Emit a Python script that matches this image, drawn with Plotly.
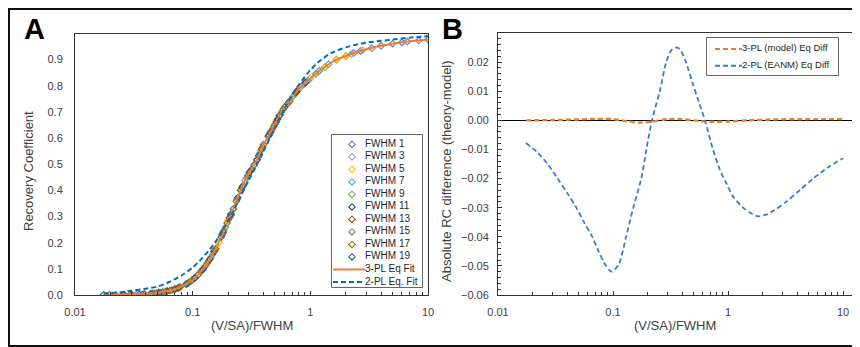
import plotly.graph_objects as go

# The page body has an 8px margin, so the figure is 852x339 and page
# coordinates are converted by subtracting that offset.
OFF = 8
W, H = 860 - OFF, 347 - OFF
FONT = "Liberation Sans, Arial, sans-serif"

def px(x):
    return (x - OFF) / W

def py(y):
    return 1 - (y - OFF) / H

# ---------------- data ----------------
series_names = ["FWHM 1", "FWHM 3", "FWHM 5", "FWHM 7", "FWHM 9",
                "FWHM 11", "FWHM 13", "FWHM 15", "FWHM 17", "FWHM 19"]
series_colors = ["#5a7cc8", "#a5a5a5", "#ffc000", "#5b9bd5", "#70ad47",
                 "#264478", "#9e480e", "#7a7a7a", "#997300", "#255e91"]

x_f1 = [0.333, 0.5, 0.667, 0.833, 1.0, 1.333, 1.667, 2.0, 2.333, 2.667, 3.333, 4.0, 5.0, 6.0, 6.667, 8.333, 10.0]
y_f1 = [0.497, 0.652, 0.741, 0.797, 0.828, 0.872, 0.900, 0.914, 0.925, 0.933, 0.944, 0.953, 0.961, 0.966, 0.969, 0.973, 0.977]
x_f3 = [0.111, 0.167, 0.222, 0.278, 0.333, 0.444, 0.556, 0.667, 0.778, 0.889, 1.111, 1.333, 1.667, 2.0, 2.222, 2.778, 3.333]
y_f3 = [0.077, 0.200, 0.329, 0.437, 0.497, 0.611, 0.690, 0.741, 0.783, 0.808, 0.845, 0.872, 0.900, 0.914, 0.921, 0.936, 0.944]
x_f5 = [0.0667, 0.1, 0.133, 0.167, 0.2, 0.267, 0.333, 0.4, 0.467, 0.533, 0.667, 0.8, 1.0, 1.2, 1.333, 1.667, 2.0]
y_f5 = [0.019, 0.058, 0.122, 0.200, 0.285, 0.418, 0.497, 0.575, 0.627, 0.676, 0.741, 0.790, 0.828, 0.858, 0.872, 0.900, 0.914]
x_f7 = [0.0476, 0.0714, 0.0952, 0.119, 0.143, 0.19, 0.238, 0.286, 0.333, 0.381, 0.476, 0.571, 0.714, 0.857, 0.952, 1.19, 1.429]
y_f7 = [0.007, 0.023, 0.051, 0.092, 0.144, 0.260, 0.365, 0.447, 0.497, 0.553, 0.635, 0.700, 0.760, 0.802, 0.820, 0.857, 0.882]
x_f9 = [0.037, 0.0556, 0.0741, 0.0926, 0.111, 0.148, 0.185, 0.222, 0.259, 0.296, 0.37, 0.444, 0.556, 0.667, 0.741, 0.926, 1.111]
y_f9 = [0.003, 0.011, 0.026, 0.048, 0.077, 0.155, 0.248, 0.329, 0.405, 0.458, 0.540, 0.611, 0.690, 0.741, 0.770, 0.815, 0.845]
x_f11 = [0.0303, 0.0455, 0.0606, 0.0758, 0.0909, 0.121, 0.152, 0.182, 0.212, 0.242, 0.303, 0.364, 0.455, 0.545, 0.606, 0.758, 0.909]
y_f11 = [0.002, 0.006, 0.015, 0.028, 0.045, 0.096, 0.165, 0.240, 0.310, 0.372, 0.468, 0.532, 0.619, 0.685, 0.718, 0.775, 0.812]
x_f13 = [0.0256, 0.0385, 0.0513, 0.0641, 0.0769, 0.103, 0.128, 0.154, 0.179, 0.205, 0.256, 0.308, 0.385, 0.462, 0.513, 0.641, 0.769]
y_f13 = [0.001, 0.004, 0.009, 0.017, 0.029, 0.063, 0.111, 0.170, 0.233, 0.295, 0.400, 0.472, 0.558, 0.624, 0.662, 0.731, 0.780]
x_f15 = [0.0222, 0.0333, 0.0444, 0.0556, 0.0667, 0.0889, 0.111, 0.133, 0.156, 0.178, 0.222, 0.267, 0.333, 0.4, 0.444, 0.556, 0.667]
y_f15 = [0.001, 0.002, 0.006, 0.011, 0.019, 0.043, 0.077, 0.122, 0.175, 0.230, 0.329, 0.418, 0.497, 0.575, 0.611, 0.690, 0.741]
x_f17 = [0.0196, 0.0294, 0.0392, 0.049, 0.0588, 0.0784, 0.098, 0.118, 0.137, 0.157, 0.196, 0.235, 0.294, 0.353, 0.392, 0.49, 0.588]
y_f17 = [0.001, 0.002, 0.004, 0.008, 0.013, 0.030, 0.055, 0.090, 0.131, 0.177, 0.275, 0.358, 0.456, 0.518, 0.566, 0.645, 0.710]
x_f19 = [0.0175, 0.0263, 0.0351, 0.0439, 0.0526, 0.0702, 0.0877, 0.105, 0.123, 0.14, 0.175, 0.211, 0.263, 0.316, 0.351, 0.439, 0.526]
y_f19 = [0.001, 0.001, 0.003, 0.005, 0.009, 0.022, 0.041, 0.066, 0.100, 0.137, 0.222, 0.305, 0.412, 0.480, 0.516, 0.607, 0.672]

series_x = [x_f1, x_f3, x_f5, x_f7, x_f9, x_f11, x_f13, x_f15, x_f17, x_f19]
series_y = [y_f1, y_f3, y_f5, y_f7, y_f9, y_f11, y_f13, y_f15, y_f17, y_f19]

fit3_x = [0.0175, 0.02, 0.025, 0.03, 0.04, 0.05, 0.06, 0.07, 0.08, 0.09, 0.1, 0.11, 0.12,
          0.13, 0.14, 0.15, 0.16, 0.18, 0.2, 0.22, 0.25, 0.28, 0.3, 0.33, 0.35, 0.4, 0.45,
          0.5, 0.55, 0.6, 0.67, 0.7, 0.8, 0.9, 1.0, 1.2, 1.5, 1.67, 2.0, 2.5, 3.0, 4.0,
          5.0, 7.0, 10.0]
fit3_y = [0.001, 0.001, 0.001, 0.002, 0.004, 0.008, 0.014, 0.022, 0.032, 0.044, 0.058, 0.075,
          0.094, 0.115, 0.137, 0.160, 0.185, 0.235, 0.285, 0.325, 0.390, 0.440, 0.465, 0.495,
          0.515, 0.575, 0.615, 0.652, 0.688, 0.715, 0.742, 0.755, 0.790, 0.810, 0.828, 0.858,
          0.888, 0.900, 0.914, 0.930, 0.940, 0.953, 0.961, 0.970, 0.977]

fit2_x = [0.0175, 0.02, 0.025, 0.03, 0.04, 0.05, 0.06, 0.07, 0.08, 0.1, 0.12, 0.14, 0.16,
          0.18, 0.2, 0.22, 0.25, 0.3, 0.35, 0.4, 0.5, 0.6, 0.7, 0.8, 1.0, 1.2, 1.5, 2.0,
          2.5, 3.0, 4.0, 5.0, 7.0, 10.0]
fit2_y = [0.006, 0.007, 0.011, 0.016, 0.024, 0.032, 0.045, 0.060, 0.074, 0.105, 0.140, 0.175,
          0.210, 0.248, 0.283, 0.318, 0.368, 0.440, 0.497, 0.550, 0.640, 0.710, 0.765, 0.805,
          0.860, 0.895, 0.925, 0.947, 0.958, 0.965, 0.972, 0.977, 0.984, 0.990]

diff3_x = [0.0175, 0.03, 0.05, 0.07, 0.1, 0.13, 0.17, 0.22, 0.3, 0.4, 0.55, 0.7, 1.0, 1.5,
           2.5, 5.0, 10.0]
diff3_y = [0.0, 0.0001, 0.0003, 0.0005, 0.0004, -0.0003, -0.0008, -0.0004, 0.0004, 0.0004,
           -0.0002, -0.0005, -0.0004, 0.0, 0.0003, 0.0004, 0.0004]

diff2_x = [0.0175, 0.022, 0.027, 0.033, 0.04, 0.048, 0.056, 0.066, 0.075, 0.084, 0.097,
           0.112, 0.13, 0.15, 0.176, 0.195, 0.218, 0.255, 0.29, 0.32, 0.35, 0.38, 0.43,
           0.49, 0.55, 0.63, 0.74, 0.85, 0.95, 1.1, 1.35, 1.6, 1.82, 2.1, 2.5, 3.2, 4.2, 5.5,
           7.5, 10.0]
diff2_y = [-0.0078, -0.011, -0.015, -0.020, -0.025, -0.030, -0.035, -0.040, -0.045, -0.049,
           -0.052, -0.0495, -0.040, -0.030, -0.020, -0.010, 0.0, 0.010, 0.020,
           0.024, 0.025, 0.0245, 0.020, 0.013, 0.007, 0.0, -0.010, -0.017, -0.021, -0.026,
           -0.030, -0.032, -0.033, -0.0325, -0.031, -0.028, -0.024, -0.020, -0.016, -0.013]

a_line_names = ["3-PL Eq Fit", "2-PL Eq. Fit"]
b_line_names = ["3-PL (model) Eq Diff", "2-PL (EANM) Eq Diff"]

x_ticks = [0.01, 0.1, 1, 10]
x_ticktext = ["0.01", "0.1", "1", "10"]
a_yticks = [0.0, 0.1, 0.2, 0.3, 0.4, 0.5, 0.6, 0.7, 0.8, 0.9]
b_yticks = [-0.06, -0.05, -0.04, -0.03, -0.02, -0.01, 0.0, 0.01, 0.02]

ORANGE = "#ed7d31"
BLUE_A = "#0070c0"
BLUE_B = "#3a7bd5"
DASH = "5px,3px"

MARKER_SIZE = 5
MARKER_LW = 1.1

# ---------------- figure ----------------
fig = go.Figure()

for name, color, xs, ys in zip(series_names, series_colors, series_x, series_y):
    fig.add_trace(go.Scatter(
        x=xs, y=ys, mode="markers", name=name, showlegend=False,
        marker=dict(symbol="diamond-open", size=MARKER_SIZE, color=color,
                    line=dict(width=MARKER_LW, color=color)),
        xaxis="x", yaxis="y"))

fig.add_trace(go.Scatter(x=fit3_x, y=fit3_y, mode="lines", name=a_line_names[0], showlegend=False,
                         line=dict(color=ORANGE, width=2, shape="spline", smoothing=0.6),
                         xaxis="x", yaxis="y"))
fig.add_trace(go.Scatter(x=fit2_x, y=fit2_y, mode="lines", name=a_line_names[1], showlegend=False,
                         line=dict(color=BLUE_A, width=2, dash=DASH, shape="spline", smoothing=0.6),
                         xaxis="x", yaxis="y"))

fig.add_trace(go.Scatter(x=diff3_x, y=diff3_y, mode="lines", name=b_line_names[0], showlegend=False,
                         line=dict(color=ORANGE, width=2.4, dash=DASH, shape="spline", smoothing=0.6),
                         xaxis="x2", yaxis="y2"))
fig.add_trace(go.Scatter(x=diff2_x, y=diff2_y, mode="lines", name=b_line_names[1], showlegend=False,
                         line=dict(color=BLUE_B, width=1.8, dash=DASH, shape="spline", smoothing=0.8),
                         xaxis="x2", yaxis="y2"))

# ---- legend A (own small axes) ----
n_ser = len(series_names)
leg_idx = list(range(n_ser))
fig.add_trace(go.Scatter(
    x=[20] * n_ser, y=leg_idx, mode="markers", showlegend=False, hoverinfo="skip",
    marker=dict(symbol="diamond-open", size=MARKER_SIZE, color=series_colors,
                line=dict(width=MARKER_LW, color=series_colors)),
    xaxis="x3", yaxis="y3"))
all_a_names = series_names + a_line_names
fig.add_trace(go.Scatter(
    x=[33] * len(all_a_names), y=list(range(len(all_a_names))), mode="text",
    text=all_a_names, textposition="middle right", showlegend=False, hoverinfo="skip",
    textfont=dict(family=FONT, size=10, color="#262626"), xaxis="x3", yaxis="y3"))
fig.add_trace(go.Scatter(x=[1, 33], y=[n_ser, n_ser], mode="lines", showlegend=False,
                         hoverinfo="skip", line=dict(color=ORANGE, width=2),
                         xaxis="x3", yaxis="y3"))
fig.add_trace(go.Scatter(x=[1, 33], y=[n_ser + 1, n_ser + 1], mode="lines", showlegend=False,
                         hoverinfo="skip", line=dict(color=BLUE_A, width=2, dash=DASH),
                         xaxis="x3", yaxis="y3"))

# ---- legend B ----
fig.add_trace(go.Scatter(x=[8, 35], y=[0, 0], mode="lines", showlegend=False, hoverinfo="skip",
                         line=dict(color=ORANGE, width=2, dash=DASH), xaxis="x4", yaxis="y4"))
fig.add_trace(go.Scatter(x=[8, 35], y=[1, 1], mode="lines", showlegend=False, hoverinfo="skip",
                         line=dict(color=BLUE_B, width=2, dash=DASH), xaxis="x4", yaxis="y4"))
fig.add_trace(go.Scatter(x=[35, 35], y=[0, 1], mode="text", text=b_line_names,
                         textposition="middle right", showlegend=False, hoverinfo="skip",
                         textfont=dict(family=FONT, size=9.5, color="#262626"),
                         xaxis="x4", yaxis="y4"))

AX_LINE = "#333333"
TICK_FONT = dict(family=FONT, size=11, color="#404040")

fig.update_layout(
    width=W, height=H, margin=dict(l=0, r=0, t=0, b=0),
    paper_bgcolor="white", plot_bgcolor="white", showlegend=False,
    font=dict(family=FONT),
    xaxis=dict(domain=[px(75), px(428)], anchor="y", type="log", range=[-2, 1],
               tickmode="array", tickvals=x_ticks, ticktext=x_ticktext,
               ticks="inside", ticklen=4, tickcolor=AX_LINE,
               minor=dict(ticks="inside", ticklen=3, dtick="D1", tickcolor=AX_LINE, showgrid=False),
               showline=True, linecolor=AX_LINE, linewidth=1, mirror=True,
               showgrid=False, zeroline=False, tickfont=TICK_FONT, automargin=False,
               ticklabelstandoff=7),
    yaxis=dict(domain=[py(295), py(34)], anchor="x", range=[0, 0.998],
               tickmode="array", tickvals=a_yticks, tickformat=".1f", ticks="",
               showline=True, linecolor=AX_LINE, linewidth=1, mirror=True,
               showgrid=False, zeroline=False, tickfont=TICK_FONT, automargin=False,
               ticklabelstandoff=9),
    xaxis2=dict(domain=[px(498), px(852)], anchor="y2", type="log", range=[-2, 1.078],
                tickmode="array", tickvals=x_ticks, ticktext=x_ticktext,
                ticks="inside", ticklen=4, tickcolor=AX_LINE,
                minor=dict(ticks="inside", ticklen=3, dtick="D1", tickcolor=AX_LINE, showgrid=False),
                showline=True, linecolor=AX_LINE, linewidth=1, mirror=True,
                showgrid=False, zeroline=False, tickfont=TICK_FONT, automargin=False,
                ticklabelstandoff=7),
    yaxis2=dict(domain=[py(295), py(33)], anchor="x2", range=[-0.06, 0.03],
                tickmode="array", tickvals=b_yticks, tickformat=".2f",
                ticks="inside", ticklen=4, tickcolor=AX_LINE,
                minor=dict(ticks="inside", ticklen=3, dtick=0.002, tickcolor=AX_LINE, showgrid=False),
                showline=True, linecolor=AX_LINE, linewidth=1, mirror=True,
                showgrid=False, zeroline=True, zerolinecolor="#000000", zerolinewidth=1,
                tickfont=TICK_FONT, automargin=False, ticklabelstandoff=6),
    xaxis3=dict(domain=[px(332), px(422)], anchor="y3", range=[0, 90], visible=False,
                fixedrange=True),
    yaxis3=dict(domain=[py(287), py(135)], anchor="x3", range=[11.4, -0.75], visible=False,
                fixedrange=True),
    xaxis4=dict(domain=[px(707), px(838)], anchor="y4", range=[0, 131], visible=False,
                fixedrange=True),
    yaxis4=dict(domain=[py(75), py(38)], anchor="x4", range=[1.56, -0.66], visible=False,
                fixedrange=True),
)

shapes = [
    # outer frame
    dict(type="rect", xref="paper", yref="paper", x0=px(9), x1=px(875), y0=py(346), y1=py(9),
         line=dict(color="#111111", width=2), fillcolor="rgba(0,0,0,0)", layer="above"),
    # legend boxes
    dict(type="rect", xref="x3 domain", yref="y3 domain", x0=0, x1=1, y0=0, y1=1,
         line=dict(color="#333333", width=1.5), fillcolor="white", layer="below"),
    dict(type="rect", xref="x4 domain", yref="y4 domain", x0=0, x1=1, y0=0, y1=1,
         line=dict(color="#333333", width=1.5), fillcolor="white", layer="below"),
]
fig.update_layout(shapes=shapes)

TITLE_FONT = dict(family=FONT, size=13, color="#404040")
annotations = [
    dict(text="<b>A</b>", x=px(34), y=py(29), xref="paper", yref="paper", showarrow=False,
         xanchor="center", yanchor="middle", font=dict(family=FONT, size=29, color="black")),
    dict(text="<b>B</b>", x=px(452), y=py(29), xref="paper", yref="paper", showarrow=False,
         xanchor="center", yanchor="middle", font=dict(family=FONT, size=29, color="black")),
    dict(text="(V/SA)/FWHM", x=px(251.5), y=py(325), xref="paper", yref="paper", showarrow=False,
         xanchor="center", yanchor="middle", font=TITLE_FONT),
    dict(text="(V/SA)/FWHM", x=px(675), y=py(325), xref="paper", yref="paper", showarrow=False,
         xanchor="center", yanchor="middle", font=TITLE_FONT),
    dict(text="Recovery Coefficient", x=px(28), y=py(171), xref="paper", yref="paper",
         showarrow=False, textangle=-90, xanchor="center", yanchor="middle", font=TITLE_FONT),
    dict(text="Absolute RC difference (theory-model)", x=px(446), y=py(171), xref="paper",
         yref="paper", showarrow=False, textangle=-90, xanchor="center", yanchor="middle",
         font=TITLE_FONT),
]
fig.update_layout(annotations=annotations)

fig.write_html("out.html")
